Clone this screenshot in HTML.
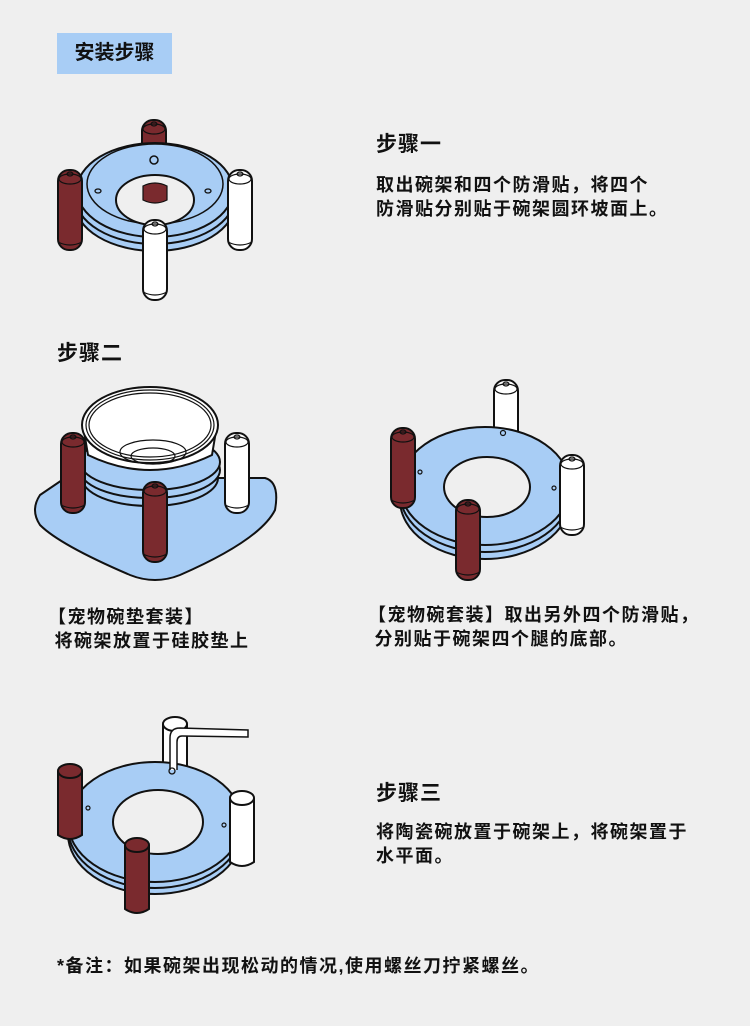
<!DOCTYPE html>
<html><head><meta charset="utf-8"><style>
body{margin:0;background:#efefef;}
.w{position:relative;width:750px;height:1026px;overflow:hidden;background:#efefef;font-family:"Liberation Sans","Noto Sans CJK SC",sans-serif;color:#111;font-weight:bold;}
.t{position:absolute;white-space:nowrap;}
.h{font-size:21px;letter-spacing:1px;}
.p{font-size:18px;line-height:24px;letter-spacing:1.5px;}
svg{position:absolute;left:0;top:0;}
</style></head><body><div class="w">
<svg width="750" height="1026" viewBox="0 0 750 1026" stroke="#111" stroke-width="2">
<defs>
<g id="legM"><rect x="-12" y="0" width="24" height="80" rx="11" fill="#7a2a2e"/><ellipse cx="0" cy="9" rx="11" ry="5" fill="none" stroke-width="1.2"/><ellipse cx="0" cy="4" rx="3" ry="2" fill="none" stroke-width="1.2"/><path d="M-12 72 Q0 78 12 72" fill="none" stroke-width="1.2"/></g>
<g id="legW"><rect x="-12" y="0" width="24" height="80" rx="11" fill="#fff"/><ellipse cx="0" cy="9" rx="11" ry="5" fill="none" stroke-width="1.2"/><ellipse cx="0" cy="4" rx="3" ry="2" fill="none" stroke-width="1.2"/><path d="M-12 72 Q0 78 12 72" fill="none" stroke-width="1.2"/></g>
<g id="cylM"><path d="M-12 8 L-12 72 Q0 80 12 72 L12 8" fill="#7a2a2e"/><ellipse cx="0" cy="8" rx="12" ry="7" fill="#7a2a2e"/></g>
<g id="cylW"><path d="M-12 8 L-12 72 Q0 80 12 72 L12 8" fill="#fff"/><ellipse cx="0" cy="8" rx="12" ry="7" fill="#fff"/></g>
</defs>
<rect x="57" y="33" width="115" height="41" fill="#a8cdf5" stroke="none"/>

<!-- illus 1 -->
<use href="#legM" x="154" y="120"/>
<ellipse cx="155" cy="203" rx="80" ry="48" fill="#a8cdf5"/>
<ellipse cx="155" cy="196" rx="80" ry="48" fill="#a8cdf5"/>
<ellipse cx="155" cy="190" rx="78" ry="47" fill="#a8cdf5"/>
<ellipse cx="155" cy="184" rx="68" ry="40" fill="none" stroke-width="1.5"/>
<ellipse cx="155" cy="200" rx="39" ry="25" fill="#efefef"/>
<path d="M143 200 L143 186 Q155 180 167 186 L167 200 Q155 206 143 200Z" fill="#7a2a2e" stroke-width="1.2"/>
<circle cx="154" cy="160" r="4" fill="none" stroke-width="1.5"/>
<ellipse cx="98" cy="191" rx="3" ry="2" fill="none" stroke-width="1.3"/>
<ellipse cx="208" cy="191" rx="3" ry="2" fill="none" stroke-width="1.3"/>
<use href="#legM" x="70" y="170"/>
<use href="#legW" x="240" y="170"/>
<use href="#legW" x="155" y="220"/>

<!-- illus 2 -->
<path d="M65 478 L265 478 Q280 482 275 510 Q260 540 180 575 Q155 585 130 575 Q60 545 40 525 Q30 510 40 495 Z" fill="#a8cdf5"/>
<ellipse cx="150" cy="478" rx="68" ry="28" fill="#a8cdf5"/>
<ellipse cx="150" cy="470" rx="70" ry="28" fill="#a8cdf5"/>
<ellipse cx="150" cy="462" rx="70" ry="28" fill="#a8cdf5"/>
<path d="M83 425 L88 455 Q150 485 212 455 L217 425" fill="#fff"/>
<ellipse cx="150" cy="425" rx="68" ry="38" fill="#fff"/>
<ellipse cx="150" cy="425" rx="64" ry="35" fill="none" stroke-width="1.2"/>
<ellipse cx="150" cy="425" rx="61" ry="32" fill="none" stroke-width="1.2"/>
<ellipse cx="153" cy="452" rx="33" ry="12" fill="none" stroke-width="1.2"/>
<ellipse cx="153" cy="456" rx="22" ry="8" fill="none" stroke-width="1.2"/>
<use href="#legM" x="73" y="433"/>
<use href="#legW" x="237" y="433"/>
<use href="#legM" x="155" y="482"/>

<!-- illus 2b -->
<use href="#legW" x="506" y="380"/>
<ellipse cx="485" cy="500" rx="85" ry="59" fill="#a8cdf5"/>
<ellipse cx="485" cy="493" rx="85" ry="59" fill="#a8cdf5"/>
<ellipse cx="485" cy="486" rx="85" ry="59" fill="#a8cdf5"/>
<ellipse cx="487" cy="487" rx="43" ry="30" fill="#efefef"/>
<circle cx="503" cy="433" r="2.5" fill="none" stroke-width="1.2"/>
<circle cx="420" cy="472" r="2" fill="none" stroke-width="1.2"/>
<circle cx="554" cy="488" r="2" fill="none" stroke-width="1.2"/>
<use href="#legM" x="403" y="428"/>
<use href="#legW" x="572" y="455"/>
<use href="#legM" x="468" y="500"/>

<!-- illus 3 -->
<use href="#cylW" x="175" y="716"/>
<ellipse cx="155" cy="834" rx="87" ry="60" fill="#a8cdf5"/>
<ellipse cx="155" cy="828" rx="87" ry="60" fill="#a8cdf5"/>
<ellipse cx="155" cy="822" rx="87" ry="60" fill="#a8cdf5"/>
<ellipse cx="158" cy="822" rx="45" ry="32" fill="#efefef"/>
<path d="M170 770 L170 738 Q170 728 180 728 L248 730 L248 737 L182 736 Q177 736 177 742 L177 770" fill="#fff" stroke-width="1.5"/>
<circle cx="172" cy="771" r="3" fill="none" stroke-width="1.3"/>
<circle cx="88" cy="808" r="2" fill="none" stroke-width="1.2"/>
<circle cx="224" cy="825" r="2" fill="none" stroke-width="1.2"/>
<use href="#cylM" x="70" y="763"/>
<use href="#cylW" x="242" y="790"/>
<use href="#cylM" x="137" y="837"/>
</svg>

<div class="t" style="left:57px;top:33px;width:115px;line-height:41px;text-align:center;font-size:20px;">安装步骤</div>
<div class="t h" style="left:376px;top:128px;">步骤一</div>
<div class="t p" style="left:376px;top:173px;">取出碗架和四个防滑贴，将四个<br>防滑贴分别贴于碗架圆环坡面上。</div>
<div class="t h" style="left:57px;top:337px;">步骤二</div>
<div class="t p" style="left:48px;top:605px;">【宠物碗垫套装】<br>&nbsp;将碗架放置于硅胶垫上</div>
<div class="t p" style="left:368px;top:603px;">【宠物碗套装】取出另外四个防滑贴，<br>&nbsp;分别贴于碗架四个腿的底部。</div>
<div class="t h" style="left:376px;top:777px;">步骤三</div>
<div class="t p" style="left:376px;top:820px;">将陶瓷碗放置于碗架上，将碗架置于<br>水平面。</div>
<div class="t p" style="left:57px;top:954px;">*备注：如果碗架出现松动的情况,使用螺丝刀拧紧螺丝。</div>
</div></body></html>
